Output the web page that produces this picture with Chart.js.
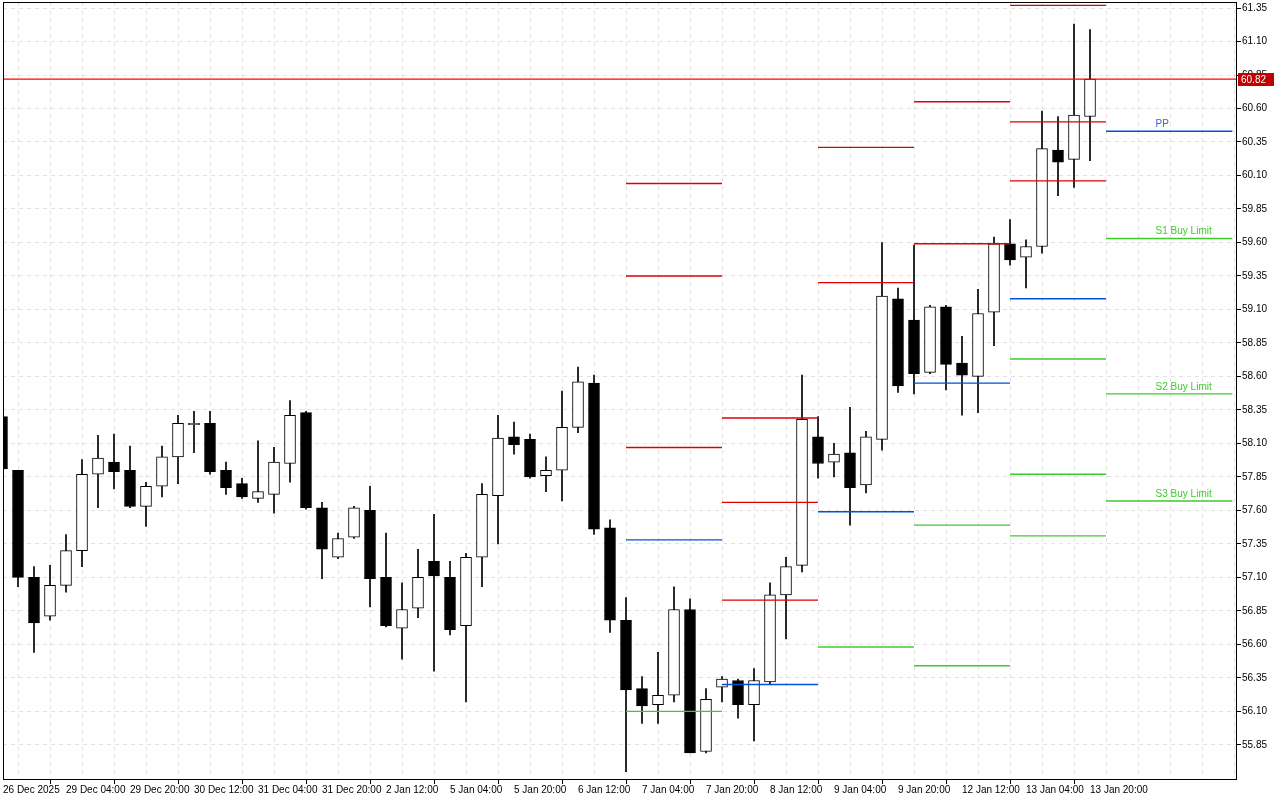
<!DOCTYPE html>
<html>
<head>
<meta charset="utf-8">
<script src="https://cdn.jsdelivr.net/npm/chart.js@4.4.1/dist/chart.umd.min.js"></script>
<style>
  html, body { margin: 0; padding: 0; background: #fff; overflow: hidden; }
  #wrap { width: 1280px; height: 800px; overflow: hidden; }
  #chart { display: block; margin-top: -5px; }
</style>
</head>
<body>
<div id="wrap"><canvas id="chart" width="1280" height="805"></canvas></div>
<script>
// 4H candles, 26 Dec 2025 .. 13 Jan 2026
var opens  = [58.30,57.90,57.10,56.81,57.04,57.30,57.87,57.96,57.90,57.63,57.78,58.00,58.24,58.25,57.90,57.80,57.69,57.72,57.95,58.33,
              57.62,57.25,57.40,57.60,57.10,56.72,56.87,57.22,57.10,56.74,57.25,57.71,58.15,58.13,57.86,57.90,58.22,58.55,57.47,56.78,
              56.27,56.15,56.22,56.86,55.80,56.28,56.33,56.15,56.32,56.97,57.19,58.15,57.96,58.03,57.79,58.13,59.18,59.02,58.63,59.12,
              58.70,58.60,59.08,59.59,59.49,59.57,60.29,60.22,60.54]
var highs  = [58.32,57.90,57.18,57.19,57.42,57.98,58.16,58.17,58.08,57.81,58.08,58.31,58.34,58.34,57.96,57.84,58.12,58.07,58.42,58.34,
              57.66,57.43,57.63,57.78,57.43,57.06,57.31,57.57,57.22,57.28,57.80,58.31,58.26,58.17,58.00,58.49,58.67,58.61,57.53,56.95,
              56.36,56.54,57.03,56.94,56.27,56.36,56.34,56.42,57.06,57.25,58.61,58.30,58.10,58.37,58.19,59.60,59.26,59.58,59.13,59.13,
              58.90,59.25,59.64,59.77,59.62,60.58,60.54,61.23,61.19]
var lows   = [57.90,57.03,56.54,56.78,56.99,57.18,57.62,57.76,57.62,57.48,57.70,57.80,58.03,57.87,57.72,57.69,57.66,57.58,57.81,57.61,
              57.09,57.24,57.39,56.88,56.73,56.49,56.80,56.40,56.67,56.17,57.03,57.35,58.02,57.84,57.74,57.67,58.18,57.42,56.69,55.65,
              56.01,56.01,56.17,55.79,55.79,56.17,56.05,55.88,56.30,56.64,57.14,57.84,57.85,57.49,57.73,58.05,58.48,58.47,58.62,58.50,
              58.31,58.33,58.83,59.43,59.26,59.52,59.95,60.01,60.21]
var closes = [57.91,57.10,56.76,57.04,57.30,57.87,57.99,57.89,57.63,57.78,58.00,58.25,58.25,57.89,57.77,57.70,57.74,57.96,58.31,57.62,
              57.31,57.39,57.62,57.09,56.74,56.86,57.10,57.11,56.71,57.25,57.72,58.14,58.09,57.85,57.90,58.22,58.56,57.46,56.78,56.26,
              56.14,56.22,56.86,55.79,56.19,56.34,56.15,56.33,56.97,57.18,58.28,57.95,58.02,57.77,58.15,59.20,58.53,58.62,59.12,58.69,
              58.61,59.07,59.59,59.47,59.57,60.30,60.20,60.55,60.82]

// time labels, one every 4 candles
var timeLabels = ['26 Dec 2025','29 Dec 04:00','29 Dec 20:00','30 Dec 12:00','31 Dec 04:00','31 Dec 20:00','2 Jan 12:00',
                  '5 Jan 04:00','5 Jan 20:00','6 Jan 12:00','7 Jan 04:00','7 Jan 20:00','8 Jan 12:00','9 Jan 04:00',
                  '9 Jan 20:00','12 Jan 12:00','13 Jan 04:00','13 Jan 20:00']

// daily pivot levels: segment start/end in candle index
var daysFrom = [39, 45, 51, 57, 63, 69]
var daysTo   = [45, 51, 57, 63, 69, 76.9]
var resist   = [[60.04,59.35,58.07],[58.29,57.66,56.93],[60.31,59.30],[60.65,59.59],[61.37,60.50,60.06],[]]
var pivots   = [57.38, 56.30, 57.59, 58.55, 59.18, 60.43]
var supports = [[56.10],[],[56.58],[57.49,56.44],[58.73,57.87,57.41],[59.63,58.47,57.67]]
var lastLevelNames = ['PP','S1 Buy Limit','S2 Buy Limit','S3 Buy Limit']

var yTicks = []
for (var t = 55.85; t <= 61.36; t += 0.25) yTicks.push(+t.toFixed(2))
var currentPrice = 60.82

var bodies = [], wicks = [], bodyColors = []
for (var i = 0; i < opens.length; i++) {
    bodies.push({x: i, y: [Math.min(opens[i], closes[i]), Math.max(opens[i], closes[i])]})
    wicks.push({x: i, y: [lows[i], highs[i]]})
    bodyColors.push(closes[i] >= opens[i] ? '#ffffff' : '#000000')
}

var RED = '#e00000', BLUE = '#0050dd', GREEN = '#3ccc2c'
var levelSets = []
function seg(x0, x1, v, c, w) {
    levelSets.push({type: 'line', data: [{x: x0, y: v}, {x: x1, y: v}],
        borderColor: c, borderWidth: w, pointRadius: 0, fill: false, tension: 0})
}
seg(0.0625, 77.1875, currentPrice, '#ff0000', 1.2)
for (var d = 0; d < daysFrom.length; d++) {
    resist[d].forEach(function(v){ seg(daysFrom[d], daysTo[d], v, RED, 1.4) })
    seg(daysFrom[d], daysTo[d], pivots[d], BLUE, 1.4)
    supports[d].forEach(function(v){ seg(daysFrom[d], daysTo[d], v, GREEN, 1.4) })
}

var font = {family: 'Liberation Sans', size: 10}

var overlay = {
    id: 'overlay',
    afterDatasetsDraw: function(chart) {
        var c = chart.ctx, a = chart.chartArea
        var x = chart.scales.x, y = chart.scales.y
        c.save()
        var py = y.getPixelForValue(currentPrice)
        // names for the latest levels
        var last = daysFrom.length - 1
        var vals = [pivots[last]].concat(supports[last])
        c.font = '10px Liberation Sans'
        c.textBaseline = 'bottom'; c.textAlign = 'left'
        for (var k = 0; k < vals.length; k++) {
            c.fillStyle = k == 0 ? '#3a66cc' : GREEN
            c.fillText(lastLevelNames[k], x.getPixelForValue(72.1), y.getPixelForValue(vals[k]) - 2)
        }
        // plot border
        c.strokeStyle = '#000'; c.lineWidth = 1
        c.strokeRect(a.left + 0.5, a.top + 0.5, a.right - a.left - 1, a.bottom - a.top)
        // price tag
        c.fillStyle = '#c00000'
        c.fillRect(a.right + 1, py - 6, 36, 13)
        c.fillStyle = '#fff'; c.textBaseline = 'middle'
        c.fillText(currentPrice.toFixed(2), a.right + 4, py + 1)
        c.restore()
    }
}

var ctx = document.getElementById('chart')
var chart = new Chart(ctx, {
    data: {
        datasets: levelSets.concat([
            {type: 'bar', data: bodies, backgroundColor: bodyColors, borderColor: '#000', borderWidth: 1,
             borderSkipped: false, barThickness: 11, grouped: false},
            {type: 'bar', data: wicks, backgroundColor: '#000', borderWidth: 0, barThickness: 1, grouped: false}
        ])
    },
    options: {
        responsive: false,
        animation: false,
        layout: {padding: {top: 3, left: 3, right: 0, bottom: 0}},
        plugins: {legend: {display: false}, tooltip: {enabled: false}},
        scales: {
            x: {
                type: 'linear', offset: false, min: 0.0625, max: 77.1875,
                afterBuildTicks: function(s) {
                    var tk = [{value: 0.0625}]
                    for (var v = 2; v <= 76; v += 2) tk.push({value: v})
                    s.ticks = tk
                },
                afterFit: function(s) { s.height = 21 },
                ticks: {
                    autoSkip: false, maxRotation: 0, align: 'start', padding: 0, color: '#000', font: font,
                    callback: function(v) {
                        var idx = v < 1 ? 0 : v
                        if (idx % 4 == 0 && idx / 4 < timeLabels.length) return timeLabels[idx / 4]
                        return ''
                    }
                },
                grid: {
                    color: function(c) { return c.tick && c.tick.value < 1 ? 'rgba(0,0,0,0)' : '#e2e2e2' },
                    tickColor: function(c) {
                        var v = c.tick ? c.tick.value : 1
                        return (v < 1 || (v % 4 == 0 && v <= 68)) ? '#000' : 'rgba(0,0,0,0)'
                    },
                    tickLength: 5, drawOnChartArea: true
                },
                border: {display: false, dash: [4, 4]}
            },
            y: {
                type: 'linear', position: 'right', min: 55.595, max: 61.395,
                afterBuildTicks: function(s) { s.ticks = yTicks.map(function(v){ return {value: v} }) },
                afterFit: function(s) { s.width = 43 },
                ticks: {
                    color: '#000', font: font, padding: 1,
                    callback: function(v) { return v.toFixed(2) }
                },
                grid: {color: '#e2e2e2', tickColor: '#000', tickLength: 4},
                border: {display: false, dash: [4, 4]}
            }
        }
    },
    plugins: [overlay]
})
</script>
</body>
</html>
